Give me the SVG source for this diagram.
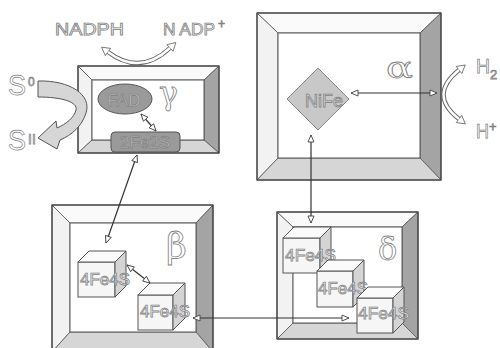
<svg xmlns="http://www.w3.org/2000/svg" width="500" height="348" viewBox="0 0 500 348">
<style>
.out{fill:#fff;stroke:#808080;stroke-width:0.75;font-family:"Liberation Sans",Arial,sans-serif}
.grk{fill:#fff;stroke:#808080;stroke-width:0.8;font-family:"DejaVu Serif","Liberation Serif",serif}
.ob{fill:none;stroke:#444;stroke-width:1.3}
.tb{fill:#fafafa}
.lb{fill:#f2f2f2}
.rb{fill:#a4a4a4}
.bb{fill:#d6d6d6}
.bev{stroke:#555;stroke-width:0.8}
.inner{fill:#fff;stroke:#555;stroke-width:1}
.fr{fill:#f6f6f6;stroke:#555;stroke-width:1}
.tp{fill:#fbfbfb;stroke:#555;stroke-width:1}
.sd{fill:#d4d4d4;stroke:#555;stroke-width:1}
.con{fill:none;stroke:#333;stroke-width:1.2}
.bandO{fill:none;stroke:#666;stroke-width:4.4}
.bandI{fill:none;stroke:#fff;stroke-width:2.4}
</style>
<defs>
<marker id="ah" viewBox="-1 -4 10 8" markerWidth="10" markerHeight="8" refX="7" refY="0" orient="auto-start-reverse" markerUnits="userSpaceOnUse">
<path d="M0,-3 L7,0 L0,3 Z" fill="#fff" stroke="#444" stroke-width="0.9"/>
</marker>
<marker id="bh" viewBox="-1 -6 10 12" markerWidth="10" markerHeight="12" refX="0" refY="0" orient="auto-start-reverse" markerUnits="userSpaceOnUse">
<path d="M0,-4.5 L8,0 L0,4.5 Z" fill="#fff" stroke="#666" stroke-width="0.8"/>
</marker>
</defs>
<rect width="500" height="348" fill="#fff"/>

<g id="gamma">
<polygon class="tb bev" points="78,66 219,66 204,80 92,80"/>
<polygon class="lb bev" points="78,66 92,80 92,140 78,153"/>
<polygon class="rb bev" points="219,66 219,153 204,140 204,80"/>
<polygon class="bb bev" points="78,153 92,140 204,140 219,153"/>
<rect class="inner" x="92" y="80" width="112" height="60"/>
<rect class="ob" x="78" y="66" width="141" height="87"/>
<text class="grk" x="159" y="104" font-size="32">γ</text>
</g>

<g id="fad">
<ellipse cx="125" cy="99" rx="27" ry="15" fill="#9a9a9a" stroke="#555" stroke-width="1"/>
<text class="out" x="124" y="106" font-size="17" text-anchor="middle" style="fill:#d0d0d0">FAD</text>
</g>

<g id="fe2s2">
<rect x="111" y="132" width="69" height="20" rx="4" fill="#9a9a9a" stroke="#555" stroke-width="1"/>
<text class="out" x="145" y="148" font-size="17" text-anchor="middle" style="fill:#c8c8c8">2Fe2S</text>
</g>

<g id="alpha">
<polygon class="tb bev" points="257,13 441,13 420,33 278,33"/>
<polygon class="lb bev" points="257,13 278,33 278,158 257,180"/>
<polygon class="rb bev" points="441,13 441,180 420,158 420,33"/>
<polygon class="bb bev" points="257,180 278,158 420,158 441,180"/>
<rect class="inner" x="278" y="33" width="142" height="125"/>
<rect class="ob" x="257" y="13" width="184" height="167"/>
<text class="grk" x="386" y="78" font-size="30" textLength="27" lengthAdjust="spacingAndGlyphs">α</text>
</g>

<g id="nife">
<polygon points="318,68 349,99 318,130 287,99" fill="#c8c8c8" stroke="#888" stroke-width="1"/>
<text class="out" x="324" y="107" font-size="18" text-anchor="middle" style="fill:#d8d8d8">NiFe</text>
</g>

<g id="beta">
<polygon class="tb bev" points="52,205 213,205 196,223 70,223"/>
<polygon class="lb bev" points="52,205 70,223 70,332 52,352"/>
<polygon class="rb bev" points="213,205 213,352 196,332 196,223"/>
<polygon class="bb bev" points="52,352 70,332 196,332 213,352"/>
<rect class="inner" x="70" y="223" width="126" height="109"/>
<rect class="ob" x="52" y="205" width="161" height="147"/>
<text class="grk" x="166" y="258" font-size="36">β</text>
</g>

<g id="beta-c1">
<rect class="fr" x="78" y="262" width="37" height="35"/>
<polygon class="tp" points="78,262 89,251 126,251 115,262"/>
<polygon class="sd" points="115,262 126,251 126,286 115,297"/>
<text class="out" x="80" y="285" font-size="17" textLength="50" lengthAdjust="spacingAndGlyphs">4Fe4S</text>
</g>

<g id="beta-c2">
<rect class="fr" x="138" y="295" width="35" height="35"/>
<polygon class="tp" points="138,295 150,283 185,283 173,295"/>
<polygon class="sd" points="173,295 185,283 185,318 173,330"/>
<text class="out" x="140" y="317" font-size="17" textLength="50" lengthAdjust="spacingAndGlyphs">4Fe4S</text>
</g>

<g id="delta">
<polygon class="tb bev" points="277,212 418,212 402,227 293,227"/>
<polygon class="lb bev" points="277,212 293,227 293,323 277,339"/>
<polygon class="rb bev" points="418,212 418,339 402,323 402,227"/>
<polygon class="bb bev" points="277,339 293,323 402,323 418,339"/>
<rect class="inner" x="293" y="227" width="109" height="96"/>
<rect class="ob" x="277" y="212" width="141" height="127"/>
<text class="grk" x="378" y="260" font-size="32">δ</text>
</g>

<g id="delta-c1">
<rect class="fr" x="283" y="238" width="37" height="35"/>
<polygon class="tp" points="283,238 294,227 331,227 320,238"/>
<polygon class="sd" points="320,238 331,227 331,262 320,273"/>
<text class="out" x="285" y="261" font-size="17" textLength="51" lengthAdjust="spacingAndGlyphs">4Fe4S</text>
</g>

<g id="delta-c2">
<rect class="fr" x="317" y="271" width="36" height="36"/>
<polygon class="tp" points="317,271 328,260 364,260 353,271"/>
<polygon class="sd" points="353,271 364,260 364,296 353,307"/>
<text class="out" x="318" y="294" font-size="17" textLength="50" lengthAdjust="spacingAndGlyphs">4Fe4S</text>
</g>

<g id="delta-c3">
<rect class="fr" x="357" y="298" width="36" height="35"/>
<polygon class="tp" points="357,298 368,287 404,287 393,298"/>
<polygon class="sd" points="393,298 404,287 404,322 393,333"/>
<text class="out" x="358" y="319" font-size="17" textLength="51" lengthAdjust="spacingAndGlyphs">4Fe4S</text>
</g>

<g id="nadph">
<text class="out" x="55" y="35" font-size="16" textLength="69" lengthAdjust="spacingAndGlyphs">NADPH</text>
<text class="out" x="163" y="35" font-size="16" textLength="52" lengthAdjust="spacingAndGlyphs">N ADP</text>
<text class="out" x="218" y="28" font-size="12">+</text>
</g>

<g id="sulfur">
<text class="out" x="8" y="95" font-size="30" textLength="18" lengthAdjust="spacingAndGlyphs">S</text>
<text class="out" x="28" y="86" font-size="12">0</text>
<text class="out" x="8" y="150" font-size="30" textLength="18" lengthAdjust="spacingAndGlyphs">S</text>
<text class="out" x="28" y="144" font-size="14">II</text>
</g>

<g id="hydrogen">
<text class="out" x="476" y="73" font-size="20" textLength="14" lengthAdjust="spacingAndGlyphs">H</text>
<text class="out" x="490" y="79" font-size="13">2</text>
<text class="out" x="476" y="138" font-size="20" textLength="13" lengthAdjust="spacingAndGlyphs">H</text>
<text class="out" x="489" y="131" font-size="13">+</text>
</g>

<g id="connectors">
<path d="M38,81 C70,80 92,95 86,113 C82,126 72,135 60,140 L57,149 L38,138 L56,121 L57,128 C66,124 74,118 76,110 C78,102 62,97 38,97 Z" fill="#d6d6d6" stroke="#555" stroke-width="1"/>
<path class="bandO" d="M108,52 Q140,76 170,48" marker-start="url(#bh)" marker-end="url(#bh)"/>
<path class="bandI" d="M108,52 Q140,76 170,48"/>
<path class="bandO" d="M459,70 Q428,95 459,119" marker-start="url(#bh)" marker-end="url(#bh)"/>
<path class="bandI" d="M459,70 Q428,95 459,119"/>
<line class="con" x1="137" y1="155" x2="106" y2="243" marker-start="url(#ah)" marker-end="url(#ah)"/>
<line class="con" x1="141" y1="114" x2="156" y2="131" marker-start="url(#ah)" marker-end="url(#ah)"/>
<line class="con" x1="351" y1="93" x2="437" y2="93" marker-start="url(#ah)" marker-end="url(#ah)"/>
<line class="con" x1="311" y1="135" x2="311" y2="223" marker-start="url(#ah)" marker-end="url(#ah)"/>
<line class="con" x1="127" y1="265" x2="150" y2="283" marker-start="url(#ah)" marker-end="url(#ah)"/>
<line class="con" x1="193" y1="318" x2="349" y2="318" marker-start="url(#ah)" marker-end="url(#ah)"/>
</g>
</svg>
